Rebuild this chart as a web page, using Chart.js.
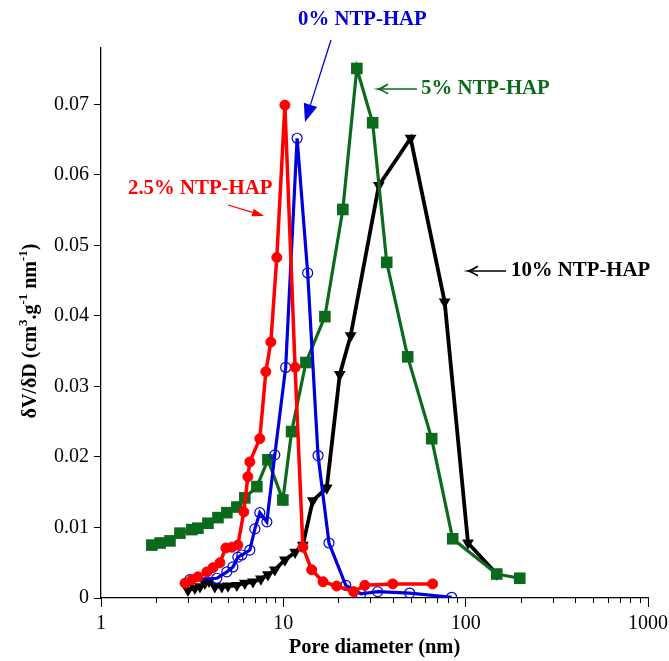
<!DOCTYPE html>
<html>
<head>
<meta charset="utf-8">
<script src="https://cdn.jsdelivr.net/npm/chart.js@4.4.1/dist/chart.umd.min.js"></script>
<style>
  html, body { margin: 0; padding: 0; background: #fff; }
  #wrap { width: 669px; height: 661px; }
</style>
</head>
<body>
<div id="wrap"><canvas id="psd" width="669" height="661"></canvas></div>
<script>
// pore size distribution, dV/dD vs pore diameter (nm)
const d25X = [2.89, 3.15, 3.40, 3.81, 4.11, 4.49, 4.84, 5.22, 5.63, 6.07, 6.39, 6.55, 7.43, 8.02, 8.54, 9.21, 10.2, 11.6, 12.8, 14.3, 16.5, 19.6, 24.3, 28.0, 39.8, 65.9];
const d25Y = [0.0021, 0.0026, 0.0030, 0.0037, 0.0043, 0.0050, 0.0071, 0.0072, 0.0075, 0.0122, 0.0172, 0.0193, 0.0226, 0.0321, 0.0363, 0.0483, 0.0699, 0.0327, 0.0072, 0.0040, 0.0023, 0.0017, 0.0009, 0.0018, 0.0020, 0.0020];

const d0X = [3.07, 4.32, 4.90, 5.29, 5.63, 5.92, 6.55, 6.98, 7.43, 8.12, 8.98, 10.3, 11.9, 13.6, 15.5, 17.8, 22.0, 26.6, 32.9, 49.3, 83.8];
const d0Y = [0.0026, 0.0028, 0.0037, 0.0044, 0.0058, 0.0061, 0.0068, 0.0098, 0.0121, 0.0108, 0.0203, 0.0327, 0.0652, 0.0461, 0.0202, 0.0078, 0.0018, 0.0006, 0.0009, 0.0007, 0.0001];

const d5X = [1.90, 2.11, 2.39, 2.71, 3.15, 3.40, 3.86, 4.38, 4.90, 5.56, 6.15, 7.16, 8.23, 9.94, 11.1, 13.3, 16.9, 21.2, 25.3, 30.9, 36.9, 48.1, 65.1, 84.9, 148, 198];
const d5Y = [0.0075, 0.0078, 0.0081, 0.0092, 0.0097, 0.0099, 0.0106, 0.0114, 0.0121, 0.0129, 0.0142, 0.0158, 0.0196, 0.0139, 0.0236, 0.0334, 0.0399, 0.0551, 0.0751, 0.0674, 0.0476, 0.0342, 0.0226, 0.0084, 0.0034, 0.0028];

const d10X = [3.00, 3.27, 3.49, 3.71, 3.91, 4.21, 4.60, 4.97, 5.56, 6.15, 6.81, 7.53, 8.23, 8.98, 10.2, 11.6, 12.8, 14.5, 17.3, 20.4, 23.4, 33.4, 49.9, 76.7, 103, 148];
const d10Y = [0.0011, 0.0014, 0.0016, 0.0021, 0.0024, 0.0016, 0.0016, 0.0017, 0.0018, 0.0021, 0.0023, 0.0027, 0.0033, 0.0040, 0.0054, 0.0065, 0.0075, 0.0138, 0.0156, 0.0317, 0.0372, 0.0585, 0.0652, 0.0420, 0.0078, 0.0034];

const xMajorTicks = [1, 10, 100, 1000];
const xMinorTicks = [2, 3, 4, 5, 6, 7, 8, 9, 20, 30, 40, 50, 60, 70, 80, 90, 200, 300, 400, 500, 600, 700, 800, 900];
const yTicks = [0, 0.01, 0.02, 0.03, 0.04, 0.05, 0.06, 0.07];

const RED = '#ff0000';
const BLUE = '#0000dd';
const GREEN = '#0b6a1c';
const BLACK = '#000000';
const SERIF = '"Liberation Serif", "Times New Roman", serif';

const pts = (xs, ys) => xs.map((x, i) => ({ x: x, y: ys[i] }));

// text labels with arrows pointing at each curve
const notes = [
  { text: '0% NTP-HAP', color: BLUE, x: 298, y: 20, from: [331, 40], to: [305, 122], head: 'solid', hl: 18, hw: 7 },
  { text: '5% NTP-HAP', color: GREEN, x: 421, y: 89, from: [417, 89], to: [378, 89], head: 'open' },
  { text: '2.5% NTP-HAP', color: RED, x: 128, y: 189, from: [228, 205], to: [264, 216], head: 'solid', hl: 12, hw: 4 },
  { text: '10% NTP-HAP', color: BLACK, x: 511, y: 271, from: [506, 271], to: [468, 271], head: 'open' }
];

const extras = {
  id: 'extras',
  afterDraw(chart) {
    const ctx = chart.ctx;
    const xs = chart.scales.x;
    const area = chart.chartArea;

    // minor log ticks
    ctx.save();
    ctx.strokeStyle = '#000';
    ctx.lineWidth = 1;
    xMinorTicks.forEach(v => {
      const px = Math.round(xs.getPixelForValue(v)) + 0.5;
      ctx.beginPath();
      ctx.moveTo(px, area.bottom);
      ctx.lineTo(px, area.bottom + 5);
      ctx.stroke();
    });
    ctx.restore();

    // y axis title with superscripts
    const parts = [
      ['\u03b4V/\u03b4D (cm', false], ['3', true], ['.g', false], ['-1', true],
      [' nm', false], ['-1', true], [')', false]
    ];
    const base = 'bold 20px ' + SERIF;
    const sup = 'bold 13px ' + SERIF;
    ctx.save();
    ctx.translate(31, 331);
    ctx.rotate(-Math.PI / 2);
    ctx.fillStyle = '#000';
    ctx.textBaseline = 'middle';
    let total = 0;
    parts.forEach(p => { ctx.font = p[1] ? sup : base; total += ctx.measureText(p[0]).width; });
    let cx = -total / 2;
    parts.forEach(p => {
      ctx.font = p[1] ? sup : base;
      ctx.fillText(p[0], cx, p[1] ? -7 : 0);
      cx += ctx.measureText(p[0]).width;
    });
    ctx.restore();

    // annotations
    notes.forEach(n => {
      ctx.save();
      ctx.fillStyle = n.color;
      ctx.strokeStyle = n.color;
      ctx.font = 'bold 20.8px ' + SERIF;
      ctx.textBaseline = 'middle';
      ctx.textAlign = 'left';
      ctx.fillText(n.text, n.x, n.y);

      const [x0, y0] = n.from;
      const [x1, y1] = n.to;
      const ang = Math.atan2(y1 - y0, x1 - x0);
      ctx.lineWidth = 1.3;
      if (n.head === 'solid') {
        const bx = x1 - Math.cos(ang) * n.hl;
        const by = y1 - Math.sin(ang) * n.hl;
        ctx.beginPath();
        ctx.moveTo(x0, y0);
        ctx.lineTo(bx, by);
        ctx.stroke();
        ctx.beginPath();
        ctx.moveTo(x1, y1);
        ctx.lineTo(bx + Math.sin(ang) * n.hw, by - Math.cos(ang) * n.hw);
        ctx.lineTo(bx - Math.sin(ang) * n.hw, by + Math.cos(ang) * n.hw);
        ctx.closePath();
        ctx.fill();
      } else {
        ctx.lineWidth = 1.6;
        ctx.beginPath();
        ctx.moveTo(x0, y0);
        ctx.lineTo(x1, y1);
        ctx.stroke();
        const bl = 11, spread = 0.45;
        ctx.beginPath();
        ctx.moveTo(x1 - Math.cos(ang - spread) * bl, y1 - Math.sin(ang - spread) * bl);
        ctx.quadraticCurveTo(x1 - Math.cos(ang) * 3, y1 - Math.sin(ang) * 3 - 0.5, x1, y1);
        ctx.quadraticCurveTo(x1 - Math.cos(ang) * 3, y1 - Math.sin(ang) * 3 + 0.5,
          x1 - Math.cos(ang + spread) * bl, y1 - Math.sin(ang + spread) * bl);
        ctx.stroke();
      }
      ctx.restore();
    });
  }
};

const ctx = document.getElementById('psd').getContext('2d');
new Chart(ctx, {
  type: 'scatter',
  data: {
    datasets: [
      {
        label: '2.5% NTP-HAP', data: pts(d25X, d25Y), showLine: true,
        borderColor: RED, backgroundColor: RED, borderWidth: 3.5,
        pointStyle: 'circle', pointRadius: 5, pointBorderWidth: 1,
        pointBackgroundColor: RED, pointBorderColor: RED
      },
      {
        label: '0% NTP-HAP', data: pts(d0X, d0Y), showLine: true,
        borderColor: BLUE, backgroundColor: 'rgba(0,0,0,0)', borderWidth: 3.2,
        pointStyle: 'circle', pointRadius: 5, pointBorderWidth: 1.2,
        pointBackgroundColor: 'rgba(0,0,0,0)', pointBorderColor: BLUE
      },
      {
        label: '5% NTP-HAP', data: pts(d5X, d5Y), showLine: true,
        borderColor: GREEN, backgroundColor: GREEN, borderWidth: 3.2,
        pointStyle: 'rect', pointRadius: 8.2, pointBorderWidth: 0,
        pointBackgroundColor: GREEN, pointBorderColor: GREEN
      },
      {
        label: '10% NTP-HAP', data: pts(d10X, d10Y), showLine: true,
        borderColor: BLACK, backgroundColor: BLACK, borderWidth: 3.8,
        pointStyle: 'triangle', pointRotation: 180, pointRadius: 6.8, pointBorderWidth: 0,
        pointBackgroundColor: BLACK, pointBorderColor: BLACK
      }
    ]
  },
  options: {
    responsive: false,
    animation: false,
    layout: { padding: { top: 48, right: 21, left: 0, bottom: 0 } },
    plugins: { legend: { display: false }, tooltip: { enabled: false } },
    elements: { line: { tension: 0 } },
    scales: {
      x: {
        type: 'logarithmic',
        min: 1, max: 1000,
        afterBuildTicks: s => { s.ticks = xMajorTicks.map(v => ({ value: v })); },
        afterFit: s => { s.height = 63; s.paddingLeft = 0; s.paddingRight = 0; },
        grid: { drawOnChartArea: false, drawTicks: true, tickLength: 9, color: '#000', lineWidth: 1 },
        border: { color: '#000', width: 1.3 },
        ticks: {
          autoSkip: false, maxRotation: 0, padding: 5, color: '#000',
          font: { family: SERIF, size: 20 },
          callback: v => String(v)
        },
        title: {
          display: true, text: 'Pore diameter (nm)', color: '#000',
          font: { family: SERIF, size: 20.5, weight: 'bold' },
          padding: { top: 0, bottom: 1 }
        }
      },
      y: {
        min: 0, max: 0.078,
        afterBuildTicks: s => { s.ticks = yTicks.map(v => ({ value: v })); },
        afterFit: s => { s.width = 101; s.paddingTop = 0; s.paddingBottom = 0; },
        grid: { drawOnChartArea: false, drawTicks: true, tickLength: 7, color: '#000', lineWidth: 1 },
        border: { color: '#000', width: 1.3 },
        ticks: {
          padding: 5, color: '#000',
          font: { family: SERIF, size: 20 },
          callback: v => (v === 0 ? '0' : v.toFixed(2))
        }
      }
    }
  },
  plugins: [extras]
});
</script>
</body>
</html>
